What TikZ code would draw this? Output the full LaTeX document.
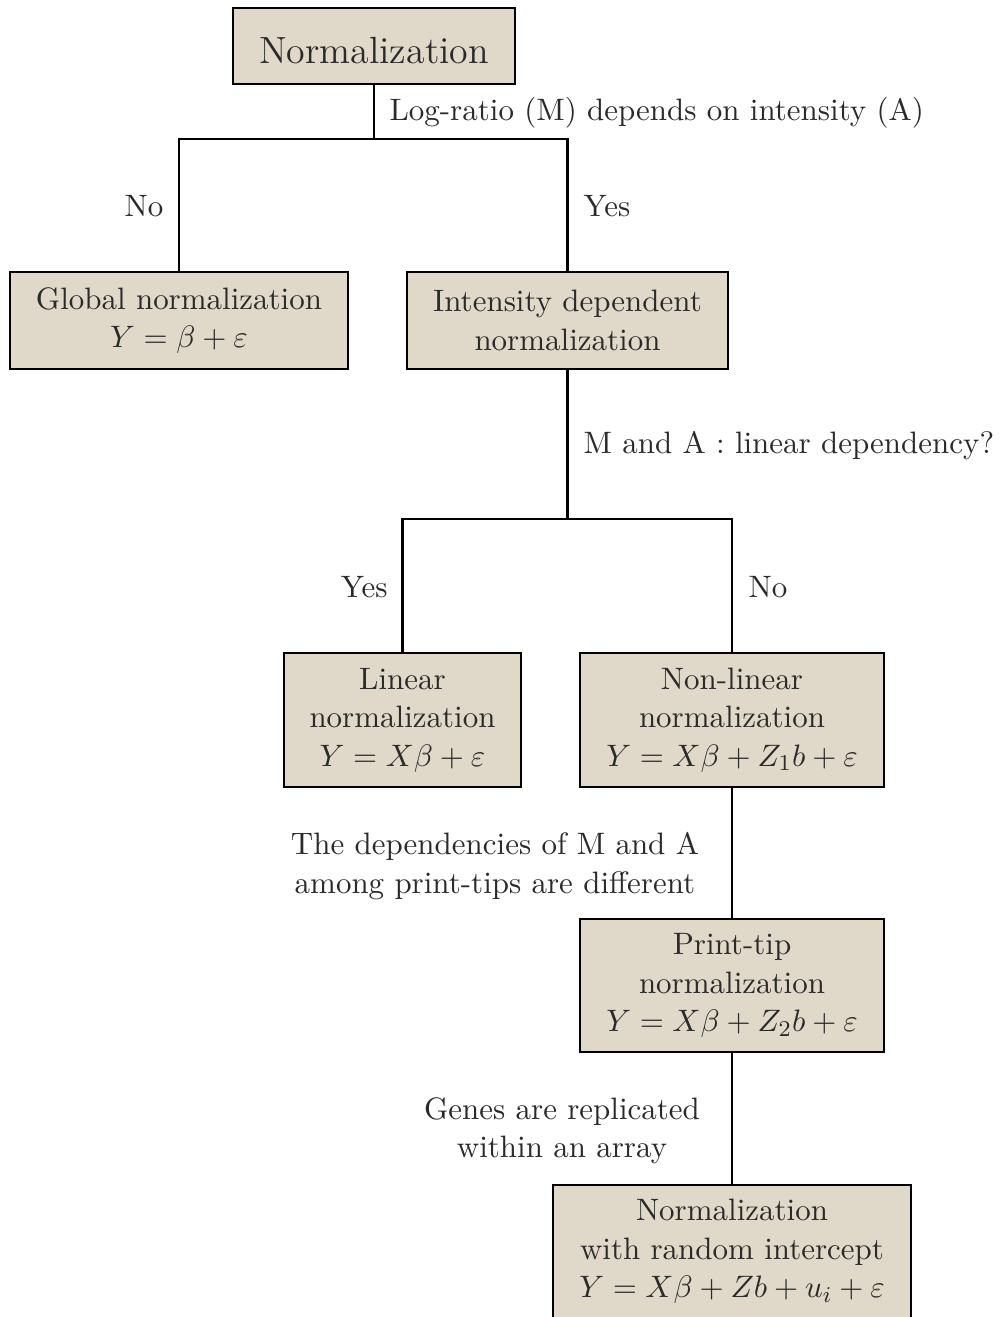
\documentclass[tikz,border=0pt]{standalone}
\usepackage{amsmath}
\definecolor{boxfill}{HTML}{E0D8C8}
\definecolor{ink}{HTML}{2A2A2A}
\begin{document}
\begin{tikzpicture}[x=0.3535pt,y=-0.3535pt,
  every node/.style={text=ink,font=\fontsize{10.95}{13.6}\selectfont},
  box/.style={draw=black,fill=boxfill,line width=0.85pt,align=center,inner sep=0pt},
  conn/.style={draw=black,line width=0.85pt},
  lbl/.style={inner sep=0pt,align=center}]
\useasboundingbox (0,0) rectangle (1001,1317);
% boxes
\node[box,minimum width=282*0.3535pt,minimum height=76*0.3535pt,text height=12.6pt,text depth=0pt,font=\fontsize{13.4}{16}\selectfont] (norm) at (374,46) {Normalization};
\node[box,minimum width=338*0.3535pt,minimum height=97*0.3535pt] (glob) at (179,320.5) {Global normalization\\$Y=\beta+\varepsilon$};
\node[box,minimum width=321*0.3535pt,minimum height=97*0.3535pt] (int) at (567.5,320.5) {Intensity dependent\\normalization};
\node[box,minimum width=237*0.3535pt,minimum height=134*0.3535pt] (lin) at (402.5,720) {Linear\\normalization\\$Y=X\beta+\varepsilon$};
\node[box,minimum width=304*0.3535pt,minimum height=134*0.3535pt] (nl) at (732,720) {Non-linear\\normalization\\$Y=X\beta+Z_1b+\varepsilon$};
\node[box,minimum width=304*0.3535pt,minimum height=133*0.3535pt] (pt) at (732,985.5) {Print-tip\\normalization\\$Y=X\beta+Z_2b+\varepsilon$};
\node[box,minimum width=358*0.3535pt,minimum height=133*0.3535pt] (last) at (732,1251.5) {Normalization\\with random intercept\\$Y=X\beta+Zb+u_i+\varepsilon$};
% junctions
\coordinate (j1) at (374,139);
\coordinate (j2) at (567.5,519);
% connectors
\draw[conn] (norm.south) -- (j1);
\draw[conn] (glob.north) |- (j1) -| (int.north);
\draw[conn] (int.south) -- (j2);
\draw[conn] (lin.north) |- (j2) -| (nl.north);
\draw[conn] (nl.south) -- (pt.north);
\draw[conn] (pt.south) -- (last.north);
% labels
\node[lbl,anchor=mid west] (l1) at (389,114) {Log-ratio (M) depends on intensity (A)};
\node[lbl,anchor=mid east] (l2) at (164,210) {No};
\node[lbl,anchor=mid west] (l3) at (583,210) {Yes};
\node[lbl,anchor=mid west] (l4) at (583,447) {M and A : linear dependency?};
\node[lbl,anchor=mid east] (l5) at (388,591) {Yes};
\node[lbl,anchor=mid west] (l6) at (748,591) {No};
\node[lbl] (l7) at (495,866) {The dependencies of M and A\\among print-tips are different};
\node[lbl] (l8) at (562,1131) {Genes are replicated\\within an array};
\end{tikzpicture}
\end{document}
